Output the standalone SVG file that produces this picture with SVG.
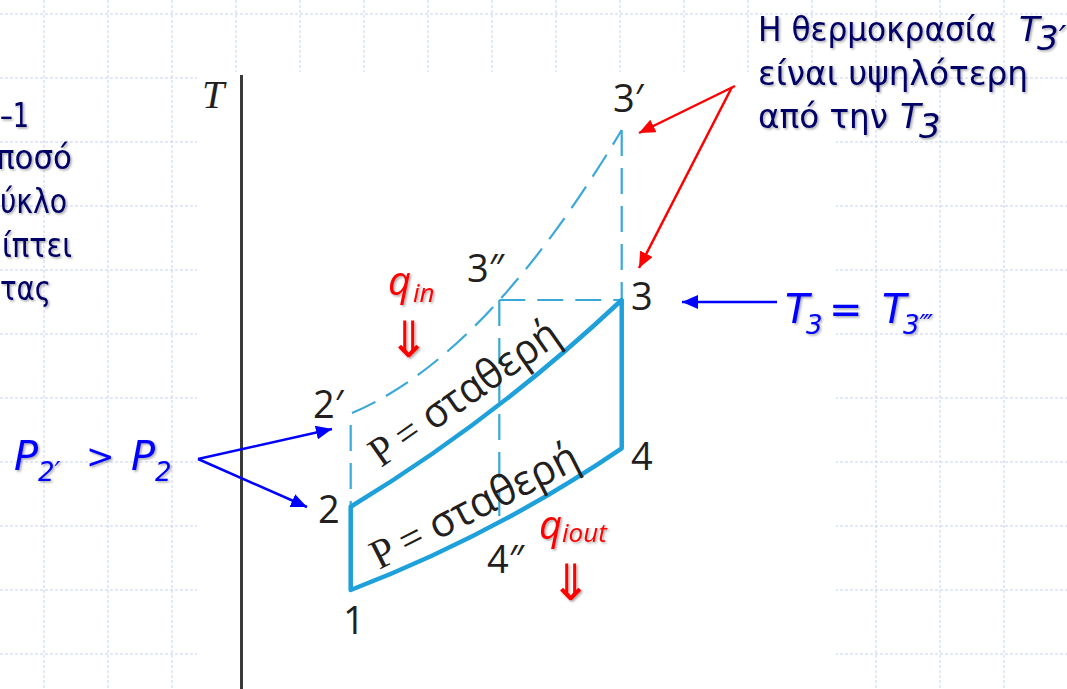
<svg xmlns="http://www.w3.org/2000/svg" width="1067" height="689" viewBox="0 0 1067 689">
<style>
.grid{stroke:#c5d2f6;stroke-width:1;stroke-dasharray:3 2;fill:none}
.navy{font-family:"DejaVu Sans",sans-serif;fill:#000066;font-size:34px}
.blue{font-family:"DejaVu Sans",sans-serif;fill:#0000ff;font-style:italic}
.red{font-family:"Open Sans",sans-serif;fill:#ff0000;font-style:italic}
.lbl{font-family:"Open Sans",sans-serif;fill:#231f20;font-size:38px}
.pc{font-family:"Open Sans",sans-serif;fill:#231f20;font-size:42px}
.ser{font-family:"Liberation Serif",serif}
.cyc{fill:none;stroke:#1ea0da;stroke-width:4.5;stroke-linejoin:round;stroke-linecap:round}
.dash{fill:none;stroke:#3aa8d8;stroke-width:2.2;stroke-dasharray:26 12}
.ba{stroke:#0000ff;stroke-width:2.5;fill:none}
.ra{stroke:#ff0000;stroke-width:2.5;fill:none}
.arr{font-family:"DejaVu Sans",sans-serif;fill:#ff0000}
</style>
<defs>
<filter id="sh" x="-10%" y="-10%" width="130%" height="140%">
<feDropShadow dx="1.5" dy="1.5" stdDeviation="1" flood-color="#000" flood-opacity="0.35"/>
</filter>
<marker id="mb" markerUnits="userSpaceOnUse" markerWidth="18" markerHeight="14" refX="16" refY="7" orient="auto">
<path d="M0,0 L16,7 L0,14 Z" fill="#0000ff"/>
</marker>
<marker id="mr" markerUnits="userSpaceOnUse" markerWidth="18" markerHeight="14" refX="16" refY="7" orient="auto">
<path d="M0,0 L16,7 L0,14 Z" fill="#ff0000"/>
</marker>
</defs>
<rect width="1067" height="689" fill="#ffffff"/>
<g id="grid">
<path class="grid" d="M0,14H1067M0,78H1067M0,142H1067M0,206H1067M0,270H1067M0,334H1067M0,398H1067M0,462H1067M0,526H1067M0,590H1067M0,654H1067"/>
<path class="grid" d="M44,0V689M108,0V689M172,0V689M236,0V689M300,0V689M364,0V689M428,0V689M492,0V689M556,0V689M620,0V689M684,0V689M748,0V689M812,0V689M876,0V689M940,0V689M1004,0V689"/>
</g>
<rect id="figure-bg" x="197" y="72" width="639" height="617" fill="#ffffff"/>
<g id="left-text" class="navy" filter="url(#sh)">
<text x="0" y="127" textLength="29" lengthAdjust="spacingAndGlyphs">–1</text>
<text x="-4" y="169" textLength="76" lengthAdjust="spacingAndGlyphs">ποσό</text>
<text x="0" y="213" textLength="67" lengthAdjust="spacingAndGlyphs">ύκλο</text>
<text x="2" y="257" textLength="70" lengthAdjust="spacingAndGlyphs">ίπτει</text>
<text x="0" y="300" textLength="51" lengthAdjust="spacingAndGlyphs">τας</text>
</g>
<g id="note-T3prime" filter="url(#sh)">
<text class="navy" x="758" y="41" textLength="238" lengthAdjust="spacingAndGlyphs">Η θερμοκρασία</text>
<text class="navy" x="1019" y="41" font-size="35" font-style="italic">T</text>
<text class="navy" x="1037" y="50" font-size="20" font-style="italic">3′</text>
<text class="navy" x="758" y="85" textLength="270" lengthAdjust="spacingAndGlyphs">είναι υψηλότερη</text>
<text class="navy" x="758" y="128" textLength="130" lengthAdjust="spacingAndGlyphs">από την</text>
<text class="navy" x="900" y="128" font-size="35" font-style="italic">T</text>
<text class="navy" x="919" y="138" font-size="21" font-style="italic">3</text>
</g>
<g id="axis">
<line x1="241.5" y1="75" x2="241.5" y2="689" stroke="#3a3a3a" stroke-width="3"/>
<text x="202" y="108" font-family="Liberation Serif,serif" font-style="italic" font-size="40" fill="#231f20">T</text>
</g>
<g id="cycle">
<path class="dash" d="M352,413 Q486.2,356.5 621.7,130"/>
<path class="dash" d="M350.7,425 V506.7"/>
<path class="dash" d="M621.7,130 V300"/>
<path class="dash" d="M499.3,300 H621.7"/>
<path class="dash" d="M499.3,300 V523"/>
<path class="cyc" d="M350.7,590 V506.7 Q494,420 621.7,300 V448.3 Q494.4,534.9 350.7,590 Z"/>
</g>
<g id="pc-labels">
<text class="pc" transform="translate(381,468) rotate(-35)" textLength="222" lengthAdjust="spacingAndGlyphs"><tspan class="ser">P =</tspan> σταθερή</text>
<text class="pc" transform="translate(379,570) rotate(-27)" textLength="228" lengthAdjust="spacingAndGlyphs"><tspan class="ser">P =</tspan> σταθερή</text>
</g>
<g id="state-labels" class="lbl">
<text x="343" y="634">1</text>
<text x="318" y="523">2</text>
<text x="313" y="418">2′</text>
<text x="467" y="282">3″</text>
<text x="631" y="310">3</text>
<text x="613" y="112">3′</text>
<text x="631" y="470">4</text>
<text x="487" y="573">4″</text>
</g>
<g id="heat-labels" filter="url(#sh)">
<text class="red" x="388" y="295" font-size="40">q</text>
<text class="red" x="413" y="302" font-size="26">in</text>
<text class="arr" x="409" y="357" font-size="50" text-anchor="middle">⇓</text>
<text class="red" x="539" y="539" font-size="40">q</text>
<text class="red" x="562" y="542" font-size="26">iout</text>
<text class="arr" x="571" y="600" font-size="50" text-anchor="middle">⇓</text>
</g>
<g id="T3-eq" class="blue" filter="url(#sh)">
<text x="785" y="323" font-size="40">T</text>
<text x="806" y="334" font-size="26">3</text>
<text x="829" y="323" font-size="40" font-style="normal">=</text>
<text x="882" y="323" font-size="40">T</text>
<text x="903" y="334" font-size="26">3‴</text>
</g>
<g id="P-ineq" class="blue" filter="url(#sh)">
<text x="14" y="470" font-size="40">P</text>
<text x="38" y="481" font-size="26">2′</text>
<text x="86" y="468" font-size="34" font-style="normal">&gt;</text>
<text x="131" y="470" font-size="40">P</text>
<text x="155" y="481" font-size="26">2</text>
</g>
<g id="connectors">
<line class="ba" x1="198" y1="459" x2="332" y2="429" marker-end="url(#mb)"/>
<line class="ba" x1="198" y1="459" x2="307" y2="507" marker-end="url(#mb)"/>
<line class="ba" x1="777" y1="302" x2="682" y2="302" marker-end="url(#mb)"/>
<line class="ra" x1="735" y1="86" x2="639" y2="133" marker-end="url(#mr)"/>
<line class="ra" x1="732" y1="87" x2="639" y2="268" marker-end="url(#mr)"/>
</g>
</svg>
